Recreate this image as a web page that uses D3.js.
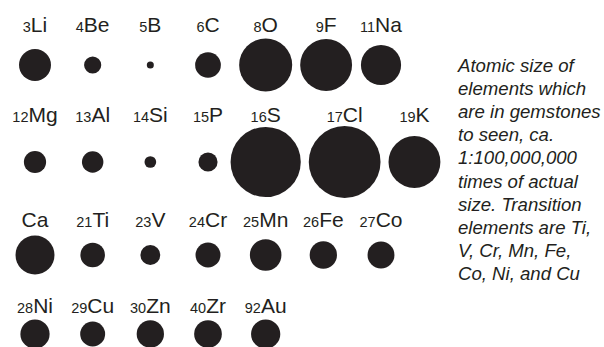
<!DOCTYPE html>
<html>
<head>
<meta charset="utf-8">
<script src="https://cdn.jsdelivr.net/npm/d3@7"></script>
<style>
  body { margin: 0; background: #fff; }
  svg { display: block; font-family: "Liberation Sans", Arial, sans-serif; }
</style>
</head>
<body>
<div id="chart"></div>
<script>
// element symbols, row by row
const symbols = ["Li", "Be", "B", "C", "O", "F", "Na",
                 "Mg", "Al", "Si", "P", "S", "Cl", "K",
                 "Ca", "Ti", "V", "Cr", "Mn", "Fe", "Co",
                 "Ni", "Cu", "Zn", "Zr", "Au"];
// atomic numbers as printed (Ca has none in the original)
const atomicNumbers = ["3", "4", "5", "6", "8", "9", "11",
                       "12", "13", "14", "15", "16", "17", "19",
                       "", "21", "23", "24", "25", "26", "27",
                       "28", "29", "30", "40", "92"];
// relative size (approx. ionic radius, pm)
const sizes = [82, 44, 18, 66, 136, 133, 103,
               57, 55, 30, 49, 180, 184, 133,
               100, 63, 51, 64, 81, 70, 69,
               75, 64, 70, 71, 75];
const rowLengths = [7, 7, 7, 5];
const noteLines = ["Atomic size of", "elements which", "are in gemstones",
                   "to seen, ca.", "1:100,000,000", "times of actual",
                   "size. Transition", "elements are Ti,", "V, Cr, Mn, Fe,",
                   "Co, Ni, and Cu"];

const width = 604, height = 347;
const ink = "#231f20";

const svg = d3.select("#chart").append("svg")
    .attr("width", width)
    .attr("height", height);

// scales
const rScale = d3.scaleLinear().domain([0, 200]).range([0, 39]);
const colScale = d3.scalePoint().domain(d3.range(7)).range([35, 381]);
const rowCircleY = d3.scaleOrdinal().domain(d3.range(4)).range([65, 162, 255, 334]);
const rowLabelY = d3.scaleOrdinal().domain(d3.range(4)).range([32, 122, 227, 313]);

// build rows; big circles push the next one to the right
const data = [];
let k = 0;
rowLengths.forEach((n, row) => {
    let prev = null;
    for (let col = 0; col < n; col++, k++) {
        const r = rScale(sizes[k]);
        let cx = colScale(col);
        if (prev) cx = Math.max(cx, prev.cx + prev.r + r + 8);
        const d = { sym: symbols[k], num: atomicNumbers[k], r, cx, row };
        data.push(d);
        prev = d;
    }
});

svg.selectAll("circle.atom")
    .data(data)
    .join("circle")
    .attr("class", "atom")
    .attr("cx", d => d.cx)
    .attr("cy", d => rowCircleY(d.row))
    .attr("r", d => d.r)
    .attr("fill", ink);

const labels = svg.selectAll("text.label")
    .data(data)
    .join("text")
    .attr("class", "label")
    .attr("x", d => d.cx)
    .attr("y", d => rowLabelY(d.row))
    .attr("text-anchor", "middle")
    .attr("fill", ink);

labels.append("tspan")
    .attr("font-size", 14.5)
    .text(d => d.num);
labels.append("tspan")
    .attr("font-size", 21)
    .text(d => d.sym);

// side note
svg.append("text")
    .attr("x", 458)
    .attr("y", 72)
    .attr("font-size", 18.6)
    .attr("font-style", "italic")
    .attr("fill", ink)
    .selectAll("tspan")
    .data(noteLines)
    .join("tspan")
    .attr("x", 458)
    .attr("dy", (d, i) => i === 0 ? 0 : 23.1)
    .text(d => d);
</script>
</body>
</html>
